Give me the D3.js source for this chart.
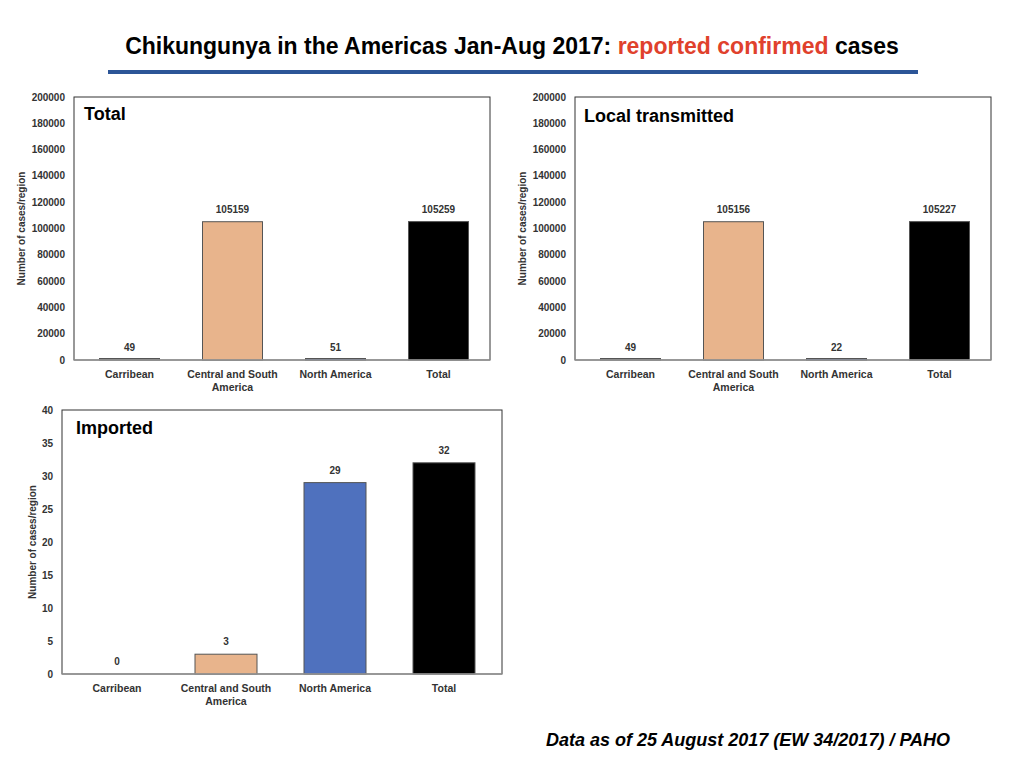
<!DOCTYPE html>
<html><head><meta charset="utf-8">
<script src="https://cdn.jsdelivr.net/npm/d3@7"></script>
<style>body{margin:0;background:#fff;font-family:"Liberation Sans",Arial,sans-serif}</style>
</head><body>
<svg id="c" width="1024" height="768"></svg>
<script>
var categories = ["Carribean", "Central and South|America", "North America", "Total"];
var totalValues = [49, 105159, 51, 105259];
var localValues = [49, 105156, 22, 105227];
var importedValues = [0, 3, 29, 32];
var barColors = ["#7f7f7f", "#e8b48c", "#4f71be", "#000000"];
var bigTicks = [0,20000,40000,60000,80000,100000,120000,140000,160000,180000,200000];
var smallTicks = [0,5,10,15,20,25,30,35,40];

var svg = d3.select("#c");
var t = svg.append("text").attr("x", 512).attr("y", 54).attr("text-anchor", "middle")
  .attr("font-size", 23).attr("font-weight", "bold").attr("fill", "#000");
t.append("tspan").text("Chikungunya in the Americas Jan-Aug 2017: ");
t.append("tspan").attr("fill", "#e0412c").text("reported confirmed");
t.append("tspan").text(" cases");
svg.append("rect").attr("x", 108).attr("y", 70).attr("width", 810).attr("height", 4).attr("fill", "#2c5597");
svg.append("text").attr("x", 748).attr("y", 746).attr("text-anchor", "middle")
  .attr("font-size", 18).attr("font-weight", "bold").attr("font-style", "italic")
  .text("Data as of 25 August 2017 (EW 34/2017) / PAHO");

function chart(o) {
  var g = svg.append("g");
  var y = d3.scaleLinear().domain([0, o.max]).range([o.y1, o.y0]);
  var x = d3.scalePoint().domain(categories).range(o.xr).padding(0.5);
  var bw = o.bw;
  g.append("rect").attr("x", o.x0).attr("y", o.y0).attr("width", o.x1 - o.x0).attr("height", o.y1 - o.y0)
    .attr("fill", "none").attr("stroke", "#333").attr("stroke-width", 1);
  o.ticks.forEach(function (v) {
    g.append("text").attr("x", o.x0 - 9).attr("y", y(v) + 3.5).attr("text-anchor", "end")
      .attr("font-size", 10).attr("font-weight", "bold").attr("fill", "#333").text(v);
  });
  g.selectAll(".b").data(o.values.filter(function (d) { return d > 0; }).length ? o.values : []).enter().append("rect")
    .attr("x", function (d, i) { return x(categories[i]) - bw / 2; })
    .attr("width", bw)
    .attr("y", function (d) { return Math.min(y(d), o.y1 - 1.5); })
    .attr("height", function (d) { return Math.max(o.y1 - y(d), 1.5); })
    .attr("fill", function (d, i) { return barColors[i]; })
    .attr("stroke", "#555").attr("stroke-width", 1)
    .attr("display", function (d) { return d > 0 ? null : "none"; });
  g.selectAll(".l").data(o.values).enter().append("text")
    .attr("x", function (d, i) { return x(categories[i]); })
    .attr("y", function (d) { return Math.min(y(d), o.y1) - 9; })
    .attr("text-anchor", "middle").attr("font-size", 10).attr("font-weight", "bold").attr("fill", "#333")
    .text(function (d) { return d; });
  g.append("line").attr("x1", o.x0).attr("x2", o.x1).attr("y1", o.y1).attr("y2", o.y1)
    .attr("stroke", "#999").attr("stroke-width", 1.5);
  categories.forEach(function (c) {
    c.split("|").forEach(function (s, k) {
      g.append("text").attr("x", x(c)).attr("y", o.y1 + 18 + k * 13)
        .attr("text-anchor", "middle").attr("font-size", 10.5).attr("font-weight", "bold").attr("fill", "#333").text(s);
    });
  });
  g.append("text").attr("transform", "translate(" + o.yl + "," + ((o.y0 + o.y1) / 2) + ") rotate(-90)")
    .attr("text-anchor", "middle").attr("font-size", 10).attr("font-weight", "bold").attr("fill", "#333")
    .text("Number of cases/region");
  g.append("text").attr("x", o.x0 + o.tx).attr("y", o.y0 + o.ty).attr("font-size", 18)
    .attr("font-weight", "bold").text(o.title);
}
chart({x0: 74, x1: 490, y0: 97, y1: 360, xr: [78, 490], bw: 60, max: 200000, ticks: bigTicks, values: totalValues, yl: 25, title: "Total", tx: 10, ty: 23});
chart({x0: 575, x1: 991, y0: 97, y1: 360, xr: [579, 991], bw: 60, max: 200000, ticks: bigTicks, values: localValues, yl: 526, title: "Local transmitted", tx: 9, ty: 25});
chart({x0: 62, x1: 502, y0: 410, y1: 674, xr: [62.5, 498.5], bw: 62, max: 40, ticks: smallTicks, values: importedValues, yl: 36, title: "Imported", tx: 14, ty: 24});
</script>
</body></html>
